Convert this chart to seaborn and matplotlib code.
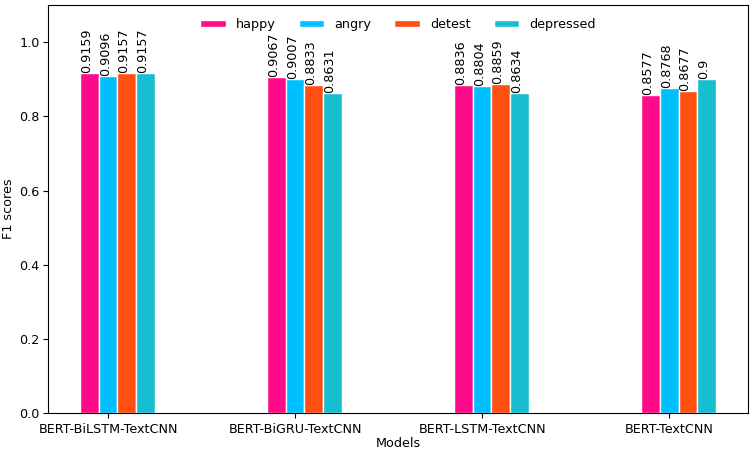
import numpy as np
import pandas as pd
import seaborn as sns
import matplotlib
matplotlib.use("Agg")
import matplotlib.pyplot as plt

# F1 scores per model and emotion
models = ["BERT-BiLSTM-TextCNN", "BERT-BiGRU-TextCNN", "BERT-LSTM-TextCNN", "BERT-TextCNN"]
emotions = ["happy", "angry", "detest", "depressed"]
happy = [0.9159, 0.9067, 0.8836, 0.8577]
angry = [0.9096, 0.9007, 0.8804, 0.8768]
detest = [0.9157, 0.8833, 0.8859, 0.8677]
depressed = [0.9157, 0.8631, 0.8634, 0.9]
colors = ["#FF0A8A", "#00BFFF", "#FF5012", "#17BECF"]

rows = []
for emo, vals in zip(emotions, [happy, angry, detest, depressed]):
    for m, v in zip(models, vals):
        rows.append({"Models": m, "F1 scores": v, "emotion": emo})
df = pd.DataFrame(rows)

fs = 9.2
fig = plt.figure(figsize=(7.53, 4.53), dpi=100)
ax = fig.add_axes([0.064, 0.088, 0.929, 0.901])

sns.barplot(data=df, x="Models", y="F1 scores", hue="emotion", hue_order=emotions,
            palette=colors, width=0.4, saturation=1, edgecolor="white", linewidth=1,
            errorbar=None, ax=ax)

# valeurs au-dessus des barres
for cont, vals in zip(ax.containers, [happy, angry, detest, depressed]):
    for bar, v in zip(cont, vals):
        ax.text(bar.get_x(), bar.get_height(), str(v), rotation=90,
                ha="left", va="bottom", fontsize=fs)

ax.set_xticks(np.arange(len(models)) - 0.05)
ax.set_xticklabels(models, fontsize=fs)
ax.tick_params(axis="y", labelsize=fs, pad=2.5)
ax.set_xlim(-0.37, 3.37)
ax.set_ylim(0, 1.1)
ax.set_xlabel("Models", fontsize=fs, labelpad=1)
ax.set_ylabel("F1 scores", fontsize=fs)
ax.yaxis.set_label_coords(-0.047, 0.5)
ax.legend(loc="upper center", ncol=4, frameon=False, fontsize=fs,
          columnspacing=1.8, handleheight=0.5, borderaxespad=0.6)

fig.savefig("out.png", dpi=100)
